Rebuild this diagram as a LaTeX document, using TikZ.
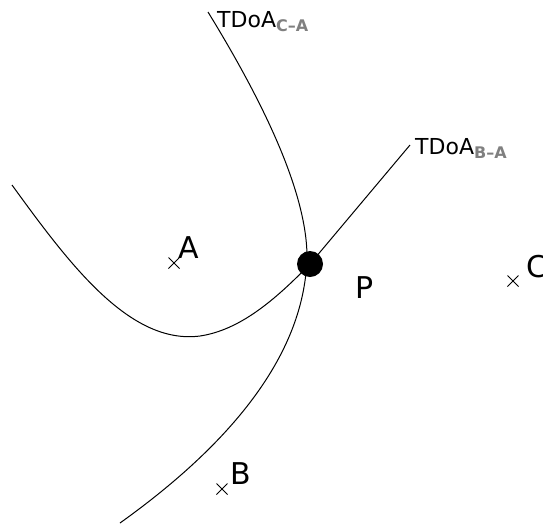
\documentclass[tikz,border=0pt]{standalone}
\usepackage{fontspec}
\setmainfont{DejaVu Sans}
\usetikzlibrary{positioning,calc}
\tikzset{
  curve/.style={line width=1pt},
  site/.style={font=\fontsize{30}{30}\selectfont, inner sep=0pt},
  tdoa/.style={font=\fontsize{22}{22}\selectfont, inner sep=0pt, anchor=west},
}
\newcommand{\sitecross}[1]{%
  \draw[line width=0.8pt] ($(#1)+(-5.5,-5.5)$) -- ($(#1)+(5.5,5.5)$);
  \draw[line width=0.8pt] ($(#1)+(-5.5,5.5)$) -- ($(#1)+(5.5,-5.5)$);}
\newcommand{\diffsub}[1]{\raisebox{-4pt}{\fontsize{16}{16}\selectfont\color{gray}\bfseries #1}}
\begin{document}
\begin{tikzpicture}[x=1pt, y=-1pt]
    \useasboundingbox (0,0) rectangle (543,523);

    % hyperbolas
    \draw[curve] (12,185) .. controls (70,265) and (130,345) .. (200,336)
      .. controls (240,330) and (275,300) .. (310,264) -- (410,145);
    \draw[curve] (208,12) .. controls (262,100) and (306,190) .. (307,255)
      .. controls (306,340) and (250,430) .. (120,523);

    \node[tdoa] (tca) at (217,22) {TDoA\diffsub{C–A}};
    \node[tdoa] (tba) at (415,148) {TDoA\diffsub{B–A}};

    % intersection
    \fill (310,264) circle (13);
    \node[site] (p) at (365,288) {P};

    % sensors
    \coordinate (a) at (174,263);
    \coordinate (b) at (222,489);
    \coordinate (c) at (513,281);
    \sitecross{a} \sitecross{b} \sitecross{c}
    \node[site, above right=4pt and 4pt of a] (la) {A};
    \node[site, above right=4pt and 8pt of b] (lb) {B};
    \node[site, above right=3pt and 13pt of c] (lc) {C};
\end{tikzpicture}
\end{document}
